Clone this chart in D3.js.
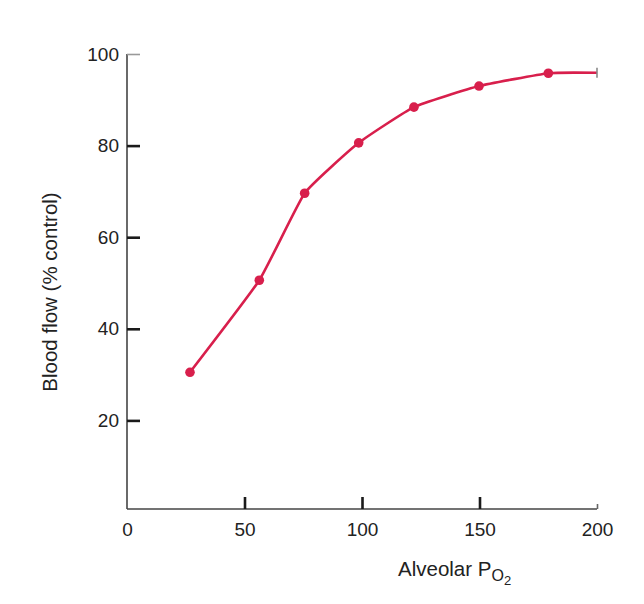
<!DOCTYPE html>
<html>
<head>
<meta charset="utf-8">
<script src="https://cdn.jsdelivr.net/npm/d3@7"></script>
<style>
  body { margin: 0; background: #fff; }
  text { font-family: "Liberation Sans", Arial, sans-serif; fill: #222; }
</style>
</head>
<body>
<div id="chart"></div>
<script>
// values
var po2 = [26.8, 56.3, 75.6, 98.6, 122.1, 149.8, 179.3];
var flow = [30.5, 50.6, 69.6, 80.6, 88.4, 93.0, 95.8];
var lineEnd = [200, 95.9];
var xTicks = [0, 50, 100, 150, 200];
var yTicks = [20, 40, 60, 80, 100];

var width = 644, height = 604;
var red = '#d81f4c';

var svg = d3.select('#chart')
    .append('svg')
        .attr('width', width)
        .attr('height', height);

var x = d3.scaleLinear().domain([0, 200]).range([127, 597]);
var y = d3.scaleLinear().domain([0, 100]).range([512, 54]);
var xAxisY = 509;

// y axis, ticks pointing into the plot
var yAxis = svg.append('g')
    .attr('transform', 'translate(' + x(0) + ',0)')
    .call(d3.axisLeft(y).tickValues(yTicks).tickSizeInner(-13).tickSizeOuter(0).tickPadding(8));
yAxis.select('.domain').attr('d', 'M0,' + y(100) + 'V' + xAxisY);

// x axis, ticks pointing up
var xAxis = svg.append('g')
    .attr('transform', 'translate(0,' + xAxisY + ')')
    .call(d3.axisBottom(x).tickValues(xTicks).tickSizeInner(-12).tickSizeOuter(0).tickPadding(14));
xAxis.select('.domain').attr('d', 'M' + x(0) + ',0H' + x(200));

svg.selectAll('.domain').attr('stroke', '#444').attr('stroke-width', 1.6);
svg.selectAll('.tick line').attr('stroke', '#1a1a1a').attr('stroke-width', 2.6);
svg.selectAll('.tick text').attr('font-size', 19).style('fill', '#222');

// no tick mark at x = 0, short light ticks at the ends
xAxis.selectAll('.tick').filter(function(d) { return d === 0; }).select('line').remove();
xAxis.selectAll('.tick').filter(function(d) { return d === 200; }).select('line')
    .attr('y2', -5).attr('stroke', '#666').attr('stroke-width', 1.6);
yAxis.selectAll('.tick').filter(function(d) { return d === 100; }).select('line')
    .attr('stroke', '#999').attr('stroke-width', 1.6);

// axis titles
svg.append('text')
    .attr('transform', 'translate(57,' + 292 + ') rotate(-90)')
    .attr('text-anchor', 'middle')
    .attr('font-size', 20.5)
    .text('Blood flow (% control)');

var xt = svg.append('text')
    .attr('x', 398)
    .attr('y', 576)
    .attr('font-size', 20.5);
xt.append('tspan').text('Alveolar P');
xt.append('tspan').attr('font-size', 16).attr('dy', 5).text('O');
xt.append('tspan').attr('font-size', 13).attr('dy', 4).text('2');

// curve
var pts = po2.map(function(d, i) { return [d, flow[i]]; });
var linePts = pts.concat([lineEnd]);

var line = d3.line()
    .x(function(d) { return x(d[0]); })
    .y(function(d) { return y(d[1]); })
    .curve(d3.curveCardinal.tension(0.6));

svg.append('path')
    .datum(linePts)
    .attr('d', line)
    .attr('fill', 'none')
    .attr('stroke', red)
    .attr('stroke-width', 2.6);

// end bar of the curve
svg.append('line')
    .attr('x1', x(lineEnd[0])).attr('x2', x(lineEnd[0]))
    .attr('y1', y(lineEnd[1]) - 5).attr('y2', y(lineEnd[1]) + 5)
    .attr('stroke', '#888')
    .attr('stroke-width', 1.6);

svg.selectAll('circle.pt')
    .data(pts)
    .enter()
    .append('circle')
        .attr('class', 'pt')
        .attr('cx', function(d) { return x(d[0]); })
        .attr('cy', function(d) { return y(d[1]); })
        .attr('r', 4.8)
        .attr('fill', red);
</script>
</body>
</html>
